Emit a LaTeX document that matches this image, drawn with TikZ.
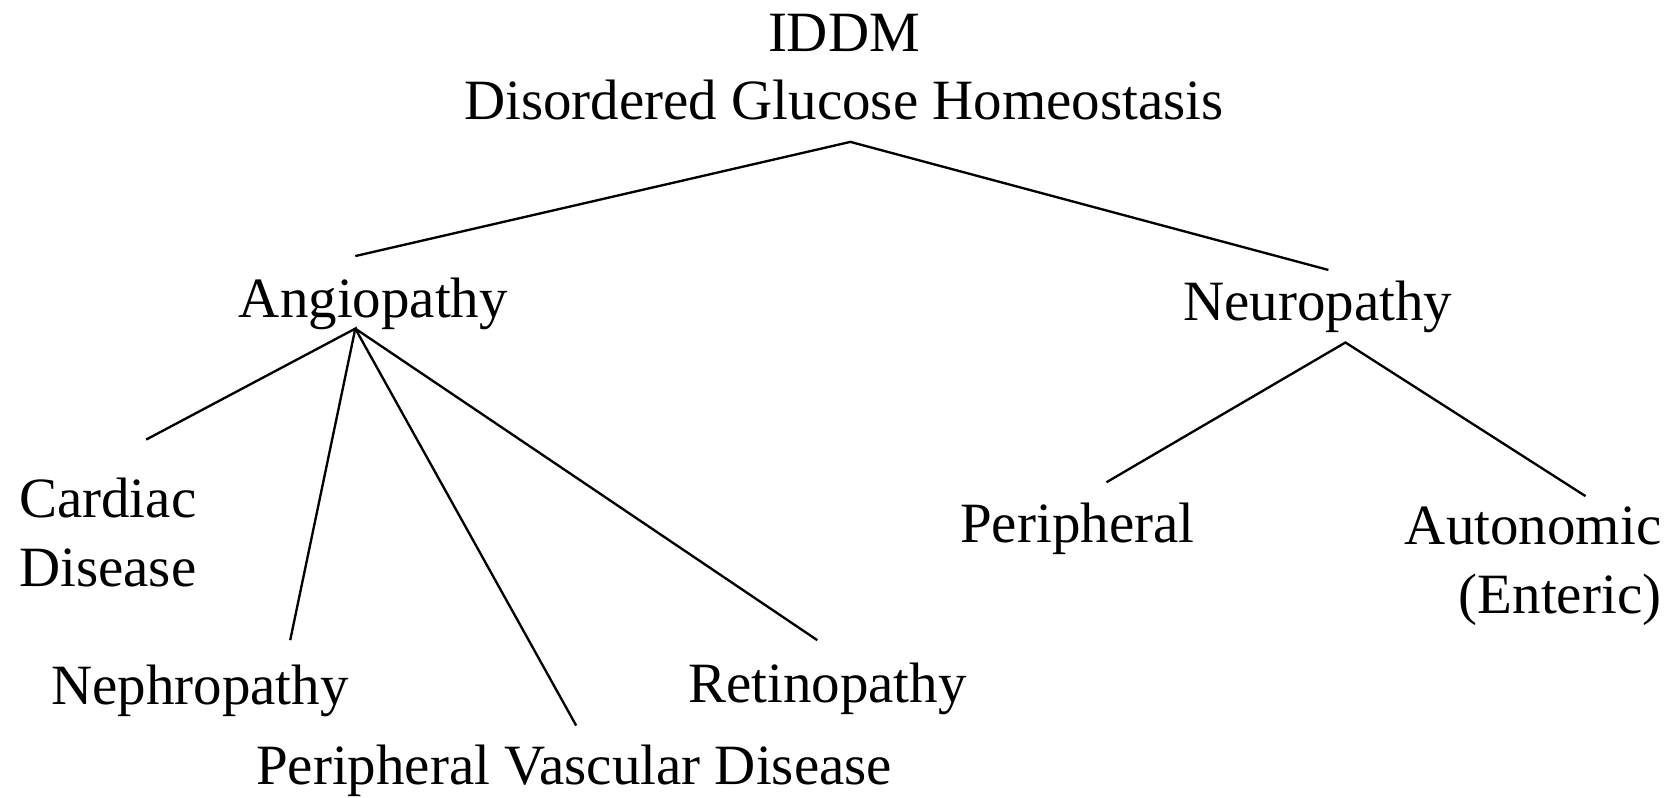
\documentclass[tikz,border=0pt]{standalone}
\usepackage{fontspec}
\setmainfont{Liberation Serif}
\begin{document}
\begin{tikzpicture}[x=0.5pt,y=-0.5pt,
  lbl/.style={inner sep=0pt, outer sep=0pt, font=\fontsize{26.7}{32.5}\selectfont},
  link/.style={line width=1.1pt}]
\useasboundingbox (0,0) rectangle (1568,747);
% labels
\node[lbl,anchor=base] (iddm) at (791,48) {IDDM};
\node[lbl,anchor=base] (dgh) at (791,112) {Disordered Glucose Homeostasis};
\node[lbl,anchor=base] (angio) at (350,298) {Angiopathy};
\node[lbl,anchor=base] (neuro) at (1235,300) {Neuropathy};
\node[lbl,anchor=base west,align=left] (card) at (18,550) {Cardiac\\Disease};
\node[lbl,anchor=base west] (nephro) at (48,660) {Nephropathy};
\node[lbl,anchor=base west] (pvd) at (240,735) {Peripheral Vascular Disease};
\node[lbl,anchor=base west] (retino) at (645,658) {Retinopathy};
\node[lbl,anchor=base west] (periph) at (900,508) {Peripheral};
\node[lbl,anchor=base east,align=right] (auto) at (1557,575) {Autonomic\\(Enteric)};
% connector end points
\coordinate (t0) at (797,133);
\coordinate (t1) at (333,240);
\coordinate (t2) at (1245,253);
\coordinate (a0) at (333,308);
\coordinate (a1) at (137,412);
\coordinate (a2) at (272,600);
\coordinate (a3) at (540,680);
\coordinate (a4) at (766,600);
\coordinate (n0) at (1261,321);
\coordinate (n1) at (1037,452);
\coordinate (n2) at (1486,465);
% connectors
\draw[link] (t1) -- (t0) -- (t2);
\draw[link] (a1) -- (a0) -- (a2);
\draw[link] (a0) -- (a3);
\draw[link] (a0) -- (a4);
\draw[link] (n1) -- (n0) -- (n2);
\end{tikzpicture}
\end{document}
